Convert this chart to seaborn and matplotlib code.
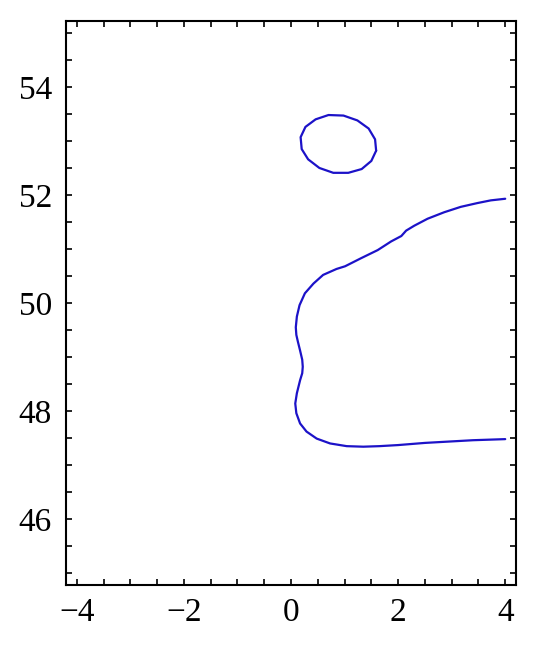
import numpy as np
import pandas as pd
import seaborn as sns
import matplotlib.pyplot as plt
from matplotlib.ticker import MultipleLocator

# closed loop (upper island)
loop_x = [1.59, 1.50, 1.32, 1.07, 0.79, 0.53, 0.32, 0.20, 0.18, 0.27, 0.46, 0.70,
          0.98, 1.24, 1.45, 1.57, 1.59]
loop_y = [52.82, 52.63, 52.48, 52.41, 52.41, 52.50, 52.66, 52.85, 53.07, 53.26, 53.40, 53.48,
          53.47, 53.38, 53.23, 53.03, 52.82]

# open curve, from the upper right end round to the lower right end
curve_x = [4.00, 3.73, 3.48, 3.17, 2.86, 2.55, 2.30, 2.15, 2.06, 1.87, 1.62, 1.31, 1.01, 0.85,
           0.60, 0.42, 0.26, 0.16, 0.11, 0.09, 0.10, 0.13, 0.17, 0.21, 0.22, 0.21, 0.17, 0.11,
           0.08, 0.10, 0.17, 0.29, 0.48, 0.73, 1.04, 1.35, 1.65, 2.00, 2.50, 2.86, 3.40, 4.00]
curve_y = [51.93, 51.90, 51.85, 51.78, 51.68, 51.56, 51.43, 51.34, 51.24, 51.14, 50.98, 50.83, 50.68, 50.63,
           50.52, 50.36, 50.18, 49.96, 49.75, 49.55, 49.41, 49.28, 49.12, 48.95, 48.82, 48.70, 48.57, 48.33,
           48.14, 47.96, 47.77, 47.62, 47.49, 47.40, 47.35, 47.34, 47.35, 47.37, 47.41, 47.43, 47.46, 47.48]

sns.set_style("white")
plt.rcParams['font.family'] = ['Liberation Serif', 'DejaVu Serif']

fig = plt.figure(figsize=(5.38, 6.72), dpi=100)
ax = fig.add_axes([0.1227, 0.1295, 0.8363, 0.8392])

line_color = '#1c12c8'
for xs, ys in [(loop_x, loop_y), (curve_x, curve_y)]:
    sns.lineplot(x=xs, y=ys, sort=False, estimator=None, color=line_color, lw=1.6,
                 solid_joinstyle='round', solid_capstyle='round', ax=ax)

ax.set_xlim(-4.2, 4.2)
ax.set_ylim(44.78, 55.22)
ax.xaxis.set_major_locator(MultipleLocator(2))
ax.xaxis.set_minor_locator(MultipleLocator(0.5))
ax.yaxis.set_major_locator(MultipleLocator(2))
ax.yaxis.set_minor_locator(MultipleLocator(0.5))

for s in ax.spines.values():
    s.set_visible(True)
    s.set_color('black')
    s.set_linewidth(1.5)

ax.tick_params(which='both', direction='in', top=True, right=True, bottom=True, left=True,
               length=4, width=1.2, color='black', labelcolor='black')
ax.tick_params(axis='x', which='major', labelsize=24, pad=9)
ax.tick_params(axis='y', which='major', labelsize=24, pad=10)

fig.savefig('out.png', dpi=100)
